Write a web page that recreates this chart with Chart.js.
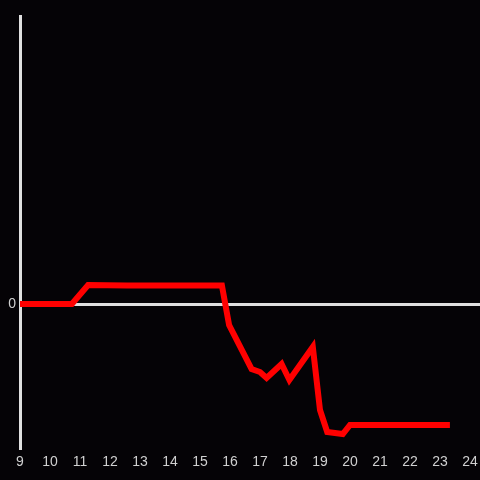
<!DOCTYPE html>
<html>
<head>
<meta charset="utf-8">
<script src="https://cdn.jsdelivr.net/npm/chart.js@4"></script>
<style>
  html, body { margin: 0; padding: 0; background: #050306; }
  #wrap { width: 480px; height: 480px; }
</style>
</head>
<body>
<div id="wrap"><canvas id="chart" width="480" height="480"></canvas></div>
<script>
// data
const xValues = [9, 10.73, 11.27, 12.57, 15.73, 15.97, 16.72, 17.0, 17.22, 17.72, 17.98, 18.76, 19.0, 19.24, 19.76, 20.0, 23.33];
const yValues = [0, 0, 0.19, 0.185, 0.185, -0.21, -0.65, -0.68, -0.74, -0.60, -0.76, -0.43, -1.06, -1.28, -1.30, -1.21, -1.21];
const xTicks = [9, 10, 11, 12, 13, 14, 15, 16, 17, 18, 19, 20, 21, 22, 23, 24];
const yTicks = [0];

const axisColor = '#e0e0e0';
const labelColor = '#d0d0d0';

const ctx = document.getElementById('chart');
new Chart(ctx, {
  type: 'line',
  data: {
    datasets: [{
      data: xValues.map((x, i) => ({ x: x, y: yValues[i] })),
      borderColor: '#ff0000',
      borderWidth: 6,
      pointRadius: 0,
      tension: 0,
      fill: false
    }]
  },
  options: {
    responsive: false,
    animation: false,
    layout: { padding: { top: 16, right: 0, left: 0, bottom: 0 } },
    plugins: { legend: { display: false }, tooltip: { enabled: false } },
    scales: {
      x: {
        type: 'linear',
        min: 9,
        max: 24.333,
        afterBuildTicks: s => { s.ticks = xTicks.map(v => ({ value: v })); },
        afterFit: s => { s.height = 32; s.paddingLeft = 0; s.paddingRight = 0; },
        grid: { display: false, drawTicks: false },
        border: { display: false },
        ticks: { color: labelColor, font: { size: 14 }, padding: 6, maxRotation: 0, autoSkip: false }
      },
      y: {
        min: -1.44,
        max: 2.88,
        afterBuildTicks: s => { s.ticks = yTicks.map(v => ({ value: v })); },
        afterFit: s => { s.width = 20; s.paddingTop = 0; s.paddingBottom = 0; },
        grid: {
          drawTicks: false,
          color: c => c.tick && c.tick.value === 0 ? axisColor : 'rgba(0,0,0,0)',
          lineWidth: 3
        },
        border: { display: true, color: axisColor, width: 3 },
        ticks: { color: labelColor, font: { size: 14 }, padding: 4 }
      }
    }
  }
});
</script>
</body>
</html>
